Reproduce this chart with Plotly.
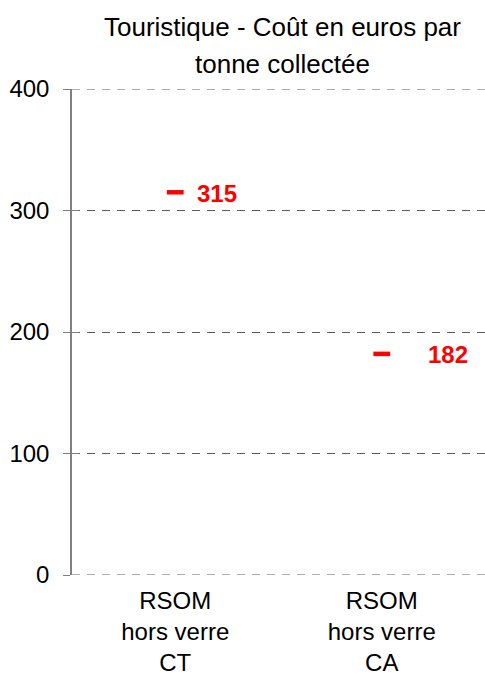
import plotly.graph_objects as go

# Cost per collected tonne, tourist areas
categories = ["RSOM<br>hors verre<br>CT", "RSOM<br>hors verre<br>CA"]
cost_values = [315, 182]
y_ticks = [0, 100, 200, 300, 400]
title_lines = ["Touristique - Coût en euros par", "tonne collectée"]

RED = "#ff0000"
GRID = "#5a5a5a"
AXIS = "#808080"
DASH = "8px,7px"
FONT = "Liberation Sans, Arial, sans-serif"

fig = go.Figure()
fig.add_trace(go.Scatter(
    x=categories,
    y=cost_values,
    mode="markers",
    marker=dict(symbol="line-ew", size=12,
                line=dict(width=4.5, color=RED), color=RED),
    showlegend=False,
    hoverinfo="x+y",
))
# invisible copy on the overlay axis so its inner tick marks get drawn
fig.add_trace(go.Scatter(
    x=categories, y=cost_values, yaxis="y2", mode="markers",
    marker=dict(opacity=0), showlegend=False, hoverinfo="skip",
))

# value labels to the right of each marker
label_shifts = [20, 44]
for cat, val, shift in zip(categories, cost_values, label_shifts):
    fig.add_annotation(
        x=cat, y=val, text=f"<b>{val}</b>", showarrow=False,
        xanchor="left", yanchor="middle", xshift=shift, yshift=-1,
        font=dict(family=FONT, size=24, color=RED),
    )

# two-line chart title above the plot area
for i, line in enumerate(title_lines):
    fig.add_annotation(
        xref="paper", yref="paper", x=0.51, y=1,
        text=line, showarrow=False,
        xanchor="center", yanchor="bottom", yshift=45 - 37 * i,
        font=dict(family=FONT, size=26, color="black"),
    )

# dashed lines at the bottom and top of the value range
for v in (y_ticks[0], y_ticks[-1]):
    fig.add_shape(
        type="line", xref="paper", yref="y", x0=0, x1=1, y0=v, y1=v,
        line=dict(color=GRID, width=1, dash=DASH), layer="below",
    )

fig.update_layout(
    width=485, height=680,
    margin=dict(l=72, r=0, t=89, b=105, autoexpand=False),
    paper_bgcolor="white", plot_bgcolor="white",
    font=dict(family=FONT, size=22, color="black"),
    xaxis=dict(
        type="category", range=[-0.5, 1.5], automargin=False,
        showgrid=False, showline=False, zeroline=False,
        ticks="", tickfont=dict(size=24), ticklabelstandoff=9,
    ),
    yaxis=dict(
        range=[0, 400], tickvals=y_ticks, automargin=False,
        showgrid=True, gridcolor=GRID, griddash=DASH, gridwidth=1,
        zeroline=False,
        showline=True, linecolor=AXIS, linewidth=1.5,
        ticks="outside", ticklen=7, tickcolor=AXIS,
        tickfont=dict(size=24), ticklabelstandoff=9,
    ),
    yaxis2=dict(
        overlaying="y", anchor="x", side="left",
        range=[0, 400], tickvals=y_ticks, automargin=False,
        showgrid=False, zeroline=False, showline=False,
        ticks="inside", ticklen=7, tickcolor=AXIS,
        showticklabels=False,
    ),
)

fig.write_html("out.html")
